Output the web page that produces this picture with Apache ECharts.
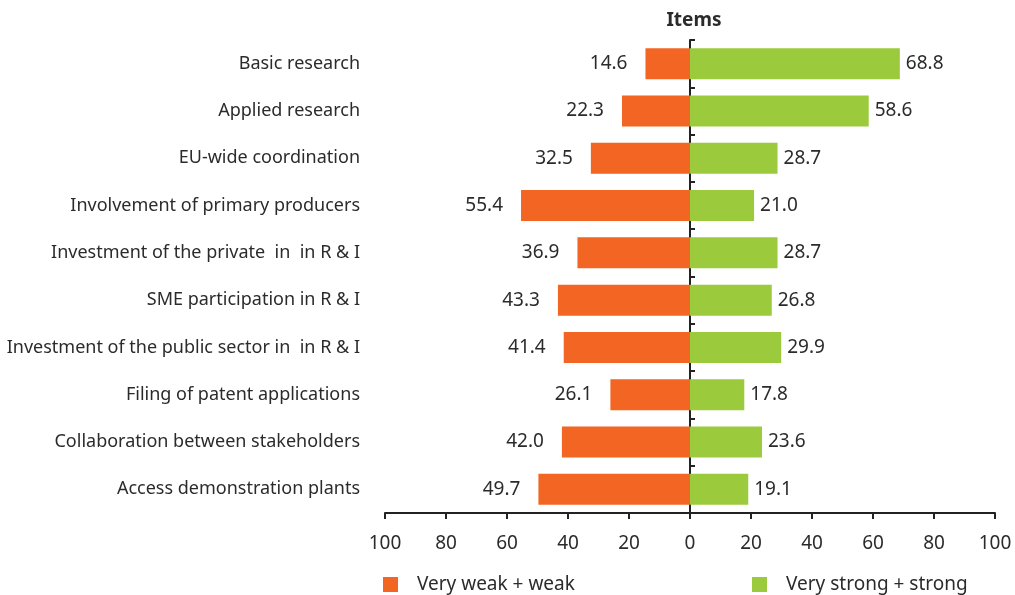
<!DOCTYPE html>
<html>
<head>
<meta charset="utf-8">
<script src="https://cdn.jsdelivr.net/npm/echarts@6/dist/echarts.min.js"></script>
<style>
  html, body { margin: 0; padding: 0; background: #fff; }
  #chart { width: 1015px; height: 595px; }
</style>
</head>
<body>
<div id="chart"></div>
<script>
var items = [
    'Basic research',
    'Applied research',
    'EU-wide coordination',
    'Involvement of primary producers',
    'Investment of the private  in  in R & I',
    'SME participation in R & I',
    'Investment of the public sector in  in R & I',
    'Filing of patent applications',
    'Collaboration between stakeholders',
    'Access demonstration plants'
];
var weak = [14.6, 22.3, 32.5, 55.4, 36.9, 43.3, 41.4, 26.1, 42.0, 49.7];
var strong = [68.8, 58.6, 28.7, 21.0, 28.7, 26.8, 29.9, 17.8, 23.6, 19.1];
var xTicks = [-100, 100, 20];

var chart = echarts.init(document.getElementById('chart'));
var font = '"Noto Sans", "Open Sans", sans-serif';
var textColor = '#2b2b2b';

var weakNeg = weak.map(function (v) { return -v; });

var option = {
    backgroundColor: '#fff',
    textStyle: { fontFamily: font },
    title: {
        text: 'Items',
        left: 689,
        top: 6,
        textAlign: 'center',
        textStyle: { fontFamily: font, fontSize: 19, fontWeight: 'bold', color: textColor }
    },
    legend: [{
        data: ['Very weak + weak'],
        left: 383,
        top: 575,
        padding: 0,
        icon: 'rect',
        itemWidth: 15,
        itemHeight: 15,
        textStyle: { fontFamily: font, fontSize: 19, color: textColor, padding: [0, 0, 0, 14] }
    }, {
        data: ['Very strong + strong'],
        left: 752,
        top: 575,
        padding: 0,
        icon: 'rect',
        itemWidth: 15,
        itemHeight: 15,
        textStyle: { fontFamily: font, fontSize: 19, color: textColor, padding: [0, 0, 0, 14] }
    }],
    grid: { left: 385, right: 20, top: 40, bottom: 82, containLabel: false },
    xAxis: {
        type: 'value',
        min: xTicks[0],
        max: xTicks[1],
        interval: xTicks[2],
        axisLine: { show: true, onZero: false, lineStyle: { color: '#222', width: 2 } },
        axisTick: { show: true, length: 6, lineStyle: { color: '#222', width: 2 } },
        splitLine: { show: false },
        axisLabel: {
            margin: 21,
            fontFamily: font,
            fontSize: 19,
            color: textColor,
            formatter: function (v) { return Math.abs(v); }
        }
    },
    yAxis: [{
        type: 'category',
        data: items,
        inverse: true,
        axisLine: { show: false, onZero: false },
        axisTick: { show: false },
        axisLabel: { margin: 25, fontFamily: font, fontSize: 18, color: textColor }
    }, {
        type: 'category',
        data: items,
        inverse: true,
        axisLine: { show: true, onZero: true, lineStyle: { color: '#222', width: 2 } },
        axisTick: { show: true, length: 5, lineStyle: { color: '#222', width: 2 } },
        axisLabel: { show: false }
    }],
    series: [{
        name: 'Very weak + weak',
        type: 'bar',
        stack: 'all',
        yAxisIndex: 0,
        data: weakNeg,
        barWidth: 31,
        itemStyle: { color: '#F26522' },
        label: {
            show: true,
            position: 'left',
            distance: 18,
            fontFamily: font,
            fontSize: 19,
            color: textColor,
            formatter: function (p) { return Math.abs(p.value).toFixed(1); }
        }
    }, {
        name: 'Very strong + strong',
        type: 'bar',
        stack: 'all',
        yAxisIndex: 0,
        data: strong,
        barWidth: 31,
        itemStyle: { color: '#9BCB3C' },
        label: {
            show: true,
            position: 'right',
            distance: 6,
            fontFamily: font,
            fontSize: 19,
            color: textColor,
            formatter: function (p) { return p.value.toFixed(1); }
        }
    }]
};

chart.setOption(option);
</script>
</body>
</html>
